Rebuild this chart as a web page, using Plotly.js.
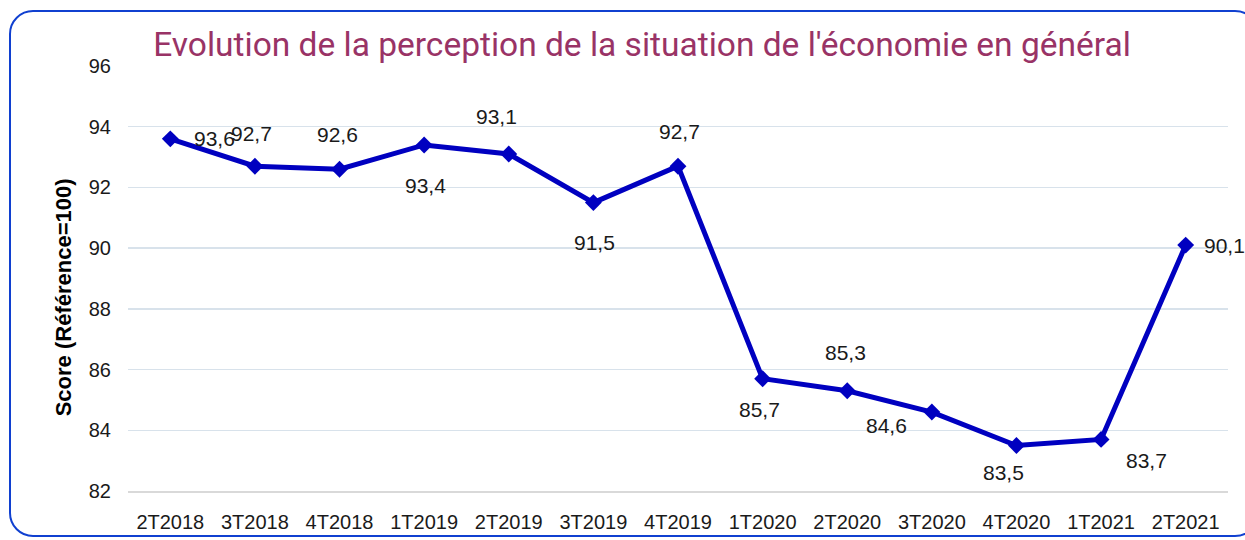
<!DOCTYPE html>
<html>
<head>
<meta charset="utf-8">
<script src="https://cdn.plot.ly/plotly-3.0.1.min.js"></script>
<style>
  html, body { margin: 0; padding: 0; background: #ffffff; overflow: hidden; }
  #wrap { position: relative; width: 1245px; height: 540px; }
  #chart { position: absolute; left: 0; top: 0; width: 1245px; height: 540px; }
  #frame {
    position: absolute; left: 9px; top: 10px; width: 1250px; height: 527px;
    border: 2.5px solid #1040d0; border-radius: 24px; pointer-events: none; box-sizing: border-box;
  }
</style>
</head>
<body>
<div id="wrap">
  <div id="chart"></div>
  <div id="frame"></div>
</div>
<script>
const categories = ["2T2018","3T2018","4T2018","1T2019","2T2019","3T2019","4T2019","1T2020","2T2020","3T2020","4T2020","1T2021","2T2021"];
const scores = [93.6, 92.7, 92.6, 93.4, 93.1, 91.5, 92.7, 85.7, 85.3, 84.6, 83.5, 83.7, 90.1];
const yTicks = [82, 84, 86, 88, 90, 92, 94, 96];
const titleText = "Evolution de la perception de la situation de l'économie en général";
const yTitleText = "Score (Référence=100)";

// label offsets in pixels (dx right, dy up) – style only
const labelShift = [
  [44, 0], [-3, 33], [-2, 35], [1, -41], [-12, 38], [1, -40], [1, 35],
  [-3, -31], [-2, 38], [-45, -13], [-13, -27], [45, -21], [39, 0]
];

const fmt = v => v.toFixed(1).replace('.', ',');

const annotations = scores.map((v, i) => ({
  x: categories[i], y: v, xref: 'x', yref: 'y',
  text: fmt(v), showarrow: false,
  xshift: labelShift[i][0], yshift: labelShift[i][1],
  font: {family: 'Liberation Sans, Arial, sans-serif', size: 21, color: '#1a1a1a'},
  xanchor: 'center', yanchor: 'middle'
}));

annotations.push({
  xref: 'paper', yref: 'paper', x: -0.059, y: 0.456,
  text: yTitleText, textangle: -90, showarrow: false,
  xanchor: 'center', yanchor: 'middle',
  font: {family: 'Liberation Sans, Arial, sans-serif', size: 22, color: '#000000', weight: 'bold'}
});

const trace = {
  type: 'scatter', mode: 'lines+markers',
  x: categories, y: scores,
  line: {color: '#0000c0', width: 5},
  marker: {symbol: 'diamond', size: 13, color: '#0000c0'},
  cliponaxis: false,
  hoverinfo: 'skip'
};

const layout = {
  width: 1245, height: 540,
  margin: {l: 128, r: 17, t: 66, b: 49},
  paper_bgcolor: '#ffffff', plot_bgcolor: '#ffffff',
  showlegend: false,
  title: {
    text: titleText,
    font: {family: 'Roboto, Liberation Sans, sans-serif', size: 33.5, color: '#993366'},
    xref: 'container', yref: 'container',
    x: 0.5157, xanchor: 'center', y: 0.918, yanchor: 'middle'
  },
  xaxis: {
    type: 'category', range: [-0.5, 12.5],
    showgrid: false, zeroline: false,
    showline: true, linecolor: '#d9d9d9', linewidth: 2,
    ticks: '', ticklabelstandoff: 12,
    tickfont: {family: 'Liberation Sans, Arial, sans-serif', size: 20, color: '#1a1a1a'}
  },
  yaxis: {
    range: [82, 96], tickvals: yTicks, ticktext: yTicks.map(String),
    showgrid: true, gridcolor: '#d8e2eb', gridwidth: 1.5,
    zeroline: false, showline: false, ticks: '', ticklabelstandoff: 16,
    tickfont: {family: 'Liberation Sans, Arial, sans-serif', size: 20, color: '#1a1a1a'}
  },
  annotations: annotations
};

Plotly.newPlot('chart', [trace], layout, {displayModeBar: false, staticPlot: true});
</script>
</body>
</html>
